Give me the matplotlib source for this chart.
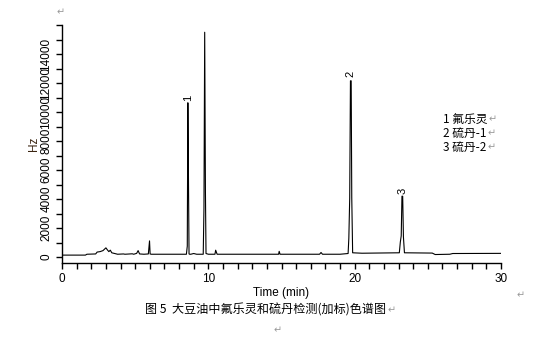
import matplotlib
matplotlib.use("Agg")
import matplotlib.pyplot as plt
from matplotlib.ticker import MultipleLocator, FixedLocator

plt.rcParams['font.family'] = ['Liberation Sans', 'Noto Sans CJK SC', 'DejaVu Sans']

# chromatogram: time (min) and signal (Hz)
time_min = [0.0, 1.6, 1.7, 2.3, 2.4, 2.6, 2.8, 3.0, 3.1, 3.2, 3.3, 3.4, 3.6, 3.8,
            4.2, 4.3, 4.8, 4.9, 5.1, 5.2, 5.3, 5.6, 5.9, 5.98, 6.02, 6.1, 7.0,
            8.5, 8.56, 8.6, 8.64, 8.68, 8.72, 8.8, 9.0, 9.2, 9.65, 9.7, 9.75,
            9.8, 9.84, 10.0, 10.45, 10.5, 10.6, 14.8, 14.84, 14.9, 17.6, 17.7,
            17.8, 19.0, 19.55, 19.6, 19.66, 19.71, 19.76, 19.8, 19.86, 20.5,
            23.05, 23.12, 23.18, 23.23, 23.28, 23.33, 23.4, 25.3, 25.5, 26.5,
            26.7, 30.0]
signal_hz = [140, 140, 200, 220, 350, 380, 450, 640, 500, 380, 480, 300, 250, 200,
             220, 200, 230, 200, 260, 450, 220, 200, 220, 1120, 220, 200, 200,
             200, 760, 10640, 5570, 220, 200, 200, 250, 200, 200, 3380, 15500,
             4570, 250, 200, 200, 480, 200, 200, 400, 200, 200, 320,
             200, 200, 250, 1300, 4070, 12150, 12150, 4100, 300, 270,
             300, 1050, 1470, 4200, 4200, 1400, 300, 280, 180, 200,
             250, 260]

peak_ids = ['1', '2', '3']
peak_time = [8.6, 19.73, 23.25]
peak_label_y = [10950, 12600, 4550]

legend_lines = ['1 氟乐灵', '2 硫丹-1', '3 硫丹-2']
y_major = [0, 2000, 4000, 6000, 8000, 10000, 12000, 14000, 16000]
y_labels = ['0', '2000', '4000', '6000', '8000', '10000', '12000', '14000', '']

fig = plt.figure(figsize=(5.44, 3.52), dpi=100)
ax = fig.add_axes([0.114, 0.253, 0.807, 0.676])

ax.plot(time_min, signal_hz, color='black', lw=0.8)

for pid, px, py in zip(peak_ids, peak_time, peak_label_y):
    ax.text(px, py, pid, rotation=90, ha='center', va='center', fontsize=8)

ax.set_xlim(0, 30)
ax.set_ylim(-400, 16000)
ax.set_xticks([0, 10, 20, 30])
ax.xaxis.set_minor_locator(MultipleLocator(1))
ax.yaxis.set_major_locator(FixedLocator(y_major))
ax.set_yticklabels(y_labels, rotation=90, va='center')
ax.yaxis.set_minor_locator(MultipleLocator(1000))
ax.tick_params(which='both', direction='out', length=4, width=1, labelsize=8.5)
ax.tick_params(axis='y', pad=3)
for s in ['top', 'right']:
    ax.spines[s].set_visible(False)
for s in ['left', 'bottom']:
    ax.spines[s].set_linewidth(1)

ax.set_xlabel('Time (min)', fontsize=8.5, labelpad=1)
ax.set_ylabel('Hz', fontsize=8.5, color='#3a2410', labelpad=0)

cjk = ['Noto Sans CJK SC', 'DejaVu Sans']


def para_mark(txt):
    # Word paragraph mark right after a text
    ax.annotate('↵', xy=(1, 0.5), xycoords=txt, xytext=(1, 0),
                textcoords='offset points', fontsize=7, color='#999999',
                family=cjk, va='center', ha='left')


for i, t in enumerate(legend_lines):
    y = 1 - (119 + 14 * i) / 352
    lt = fig.text(443 / 544, y, t, fontsize=8.5, family=cjk, va='center')
    para_mark(lt)

cap = fig.text(145 / 544, 1 - 310 / 352, '图 5  大豆油中氟乐灵和硫丹检测(加标)色谱图',
               fontsize=8.7, family=cjk, va='center')
para_mark(cap)
fig.text(57 / 544, 1 - 12 / 352, '↵', fontsize=7, color='#999999', family=cjk, va='center')
fig.text(517 / 544, 1 - 295 / 352, '↵', fontsize=7, color='#999999', family=cjk, va='center')
fig.text(274 / 544, 1 - 330 / 352, '↵', fontsize=7, color='#999999', family=cjk, va='center')

fig.savefig('out.png', dpi=100)
